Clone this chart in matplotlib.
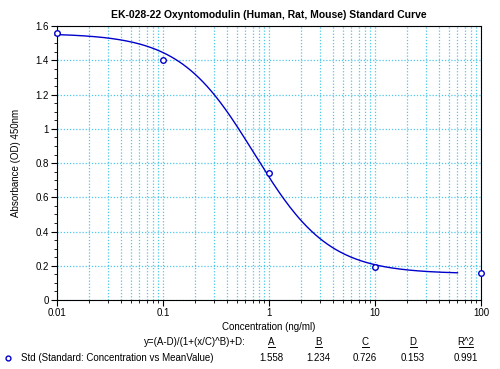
import numpy as np
import matplotlib.pyplot as plt
from matplotlib.lines import Line2D
from matplotlib.ticker import LogLocator, MultipleLocator, FixedFormatter, FixedLocator

plt.rcParams['font.family'] = ['Liberation Sans', 'DejaVu Sans']

conc = [0.01, 0.1, 1, 10, 100]
absorbance = [1.56, 1.40, 0.74, 0.195, 0.155]

param_names = ["A", "B", "C", "D", "R^2"]
param_values = [1.558, 1.234, 0.726, 0.153, 0.991]
A, B, C, D = param_values[:4]

x_ticks = [0.01, 0.1, 1, 10, 100]
x_ticklabels = ["0.01", "0.1", "1", "10", "100"]
y_ticks = [0, 0.2, 0.4, 0.6, 0.8, 1, 1.2, 1.4, 1.6]
y_ticklabels = ["0", "0.2", "0.4", "0.6", "0.8", "1", "1.2", "1.4", "1.6"]

blue = "#0000cc"
grid_color = "#4cc8ea"

fig = plt.figure(figsize=(5, 3.69), dpi=100)
ax = fig.add_axes([0.114, 0.187, 0.848, 0.742])

xs = np.logspace(-2, np.log10(60), 300)
ys = (A - D) / (1 + (xs / C) ** B) + D
ax.plot(xs, ys, color=blue, lw=1.0)
ax.plot(conc, absorbance, "o", ms=4, mfc="white", mec=blue, mew=1.0,
        clip_on=False, zorder=5)

ax.set_xscale("log")
ax.set_xlim(0.01, 100)
ax.set_ylim(0, 1.6)
ax.xaxis.set_major_locator(FixedLocator(x_ticks))
ax.xaxis.set_major_formatter(FixedFormatter(x_ticklabels))
ax.xaxis.set_minor_locator(LogLocator(base=10, subs=np.arange(2, 10)))
ax.xaxis.set_minor_formatter(plt.NullFormatter())
ax.yaxis.set_major_locator(FixedLocator(y_ticks))
ax.yaxis.set_major_formatter(FixedFormatter(y_ticklabels))
ax.yaxis.set_minor_locator(MultipleLocator(0.05))

ax.grid(True, which="both", axis="x", color=grid_color, ls=(0, (1, 1.5)), lw=0.9)
ax.grid(True, which="major", axis="y", color=grid_color, ls=(0, (1, 1.5)), lw=0.9)
ax.tick_params(which="major", length=4, width=0.8, labelsize=7, direction="out",
               pad=2)
ax.tick_params(which="minor", length=2, width=0.6, direction="out")
for s in ax.spines.values():
    s.set_linewidth(0.8)

ax.set_title("EK-028-22 Oxyntomodulin (Human, Rat, Mouse) Standard Curve",
             fontsize=7.5, fontweight="bold", pad=6)
ax.set_ylabel("Absorbance (OD) 450nm", fontsize=7, labelpad=10)
ax.set_xlabel("Concentration (ng/ml)", fontsize=7, labelpad=3)

# fit summary below the axes
row1 = 1 - 342 / 369
row2 = 1 - 358 / 369
fig.text(246 / 500, row1, "y=(A-D)/(1+(x/C)^B)+D:", fontsize=7,
         ha="right", va="center")
col_x = [271, 318, 365, 413, 466]
for cx, name, val in zip(col_x, param_names, param_values):
    fig.text(cx / 500, row1, name, fontsize=7, ha="center", va="center")
    half = 3.5 if len(name) == 1 else 7
    fig.add_artist(Line2D([(cx - half) / 500, (cx + half) / 500],
                          [1 - 347 / 369] * 2, color="black", lw=0.7,
                          transform=fig.transFigure))
    fig.text(cx / 500, row2, f"{val:.3f}", fontsize=7,
             ha="center", va="center")
fig.add_artist(Line2D([8 / 500], [row2], marker="o", ms=3.5,
                      mfc="white", mec=blue, mew=1.0,
                      transform=fig.transFigure))
fig.text(21 / 500, row2, "Std (Standard: Concentration vs MeanValue)",
         fontsize=7, ha="left", va="center")

fig.savefig("out.png", dpi=100)
